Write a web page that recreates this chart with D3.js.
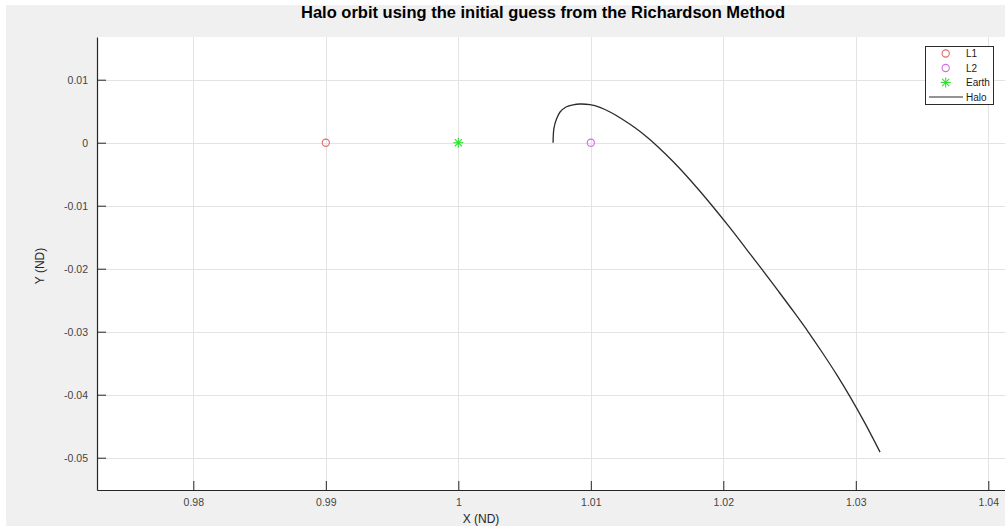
<!DOCTYPE html>
<html>
<head>
<meta charset="utf-8">
<script src="https://cdn.jsdelivr.net/npm/d3@7"></script>
<style>
  html, body { margin: 0; padding: 0; background: #ffffff; }
  svg { display: block; }
  text { font-family: "Liberation Sans", Arial, Helvetica, sans-serif; }
</style>
</head>
<body>
<svg id="chart" width="1005" height="526"></svg>
<script>
// Halo trajectory (non-dimensional rotating frame)
const haloX = [1.00715, 1.00722, 1.00741, 1.00768, 1.00813, 1.00866, 1.00919, 1.00994, 1.01069, 1.01145,
               1.01235, 1.01334, 1.01432, 1.01522, 1.01613, 1.01711, 1.01824, 1.01922, 1.02051, 1.02171,
               1.02292, 1.02413, 1.02534, 1.02647, 1.02752, 1.02858, 1.02956, 1.03069, 1.03183];
const haloY = [0.00000, 0.00233, 0.00376, 0.00487, 0.00567, 0.00602, 0.00614, 0.00603, 0.00560, 0.00487,
               0.00377, 0.00237, 0.00075, -0.00095, -0.00282, -0.00500, -0.00771, -0.01017, -0.01353, -0.01680,
               -0.02012, -0.02349, -0.02691, -0.03021, -0.03346, -0.03690, -0.04031, -0.04452, -0.04912];

// Libration points and Earth
const pointNames = ["L1", "L2", "Earth"];
const pointX = [0.99, 1.01, 1.00];
const pointY = [0, 0, 0];

// Axis ticks
const xTicks = [0.98, 0.99, 1.00, 1.01, 1.02, 1.03, 1.04];
const xTickLabels = ["0.98", "0.99", "1", "1.01", "1.02", "1.03", "1.04"];
const yTicks = [0.01, 0, -0.01, -0.02, -0.03, -0.04, -0.05];
const yTickLabels = ["0.01", "0", "-0.01", "-0.02", "-0.03", "-0.04", "-0.05"];

const legendNames = ["L1", "L2", "Earth", "Halo"];

const W = 1005, H = 526;
const plotL = 97, plotT = 37, plotR = 1005, plotB = 490;

const svg = d3.select("#chart");

// figure background
svg.append("rect").attr("x", 6).attr("y", 5).attr("width", W - 6).attr("height", H - 5).attr("fill", "#f0f0f0");
// axes area
svg.append("rect").attr("x", plotL).attr("y", plotT).attr("width", plotR - plotL).attr("height", plotB - plotT).attr("fill", "#ffffff");

const x = d3.scaleLinear().domain([0.97273, 1.04126]).range([plotL, plotR]);
const y = d3.scaleLinear().domain([0.016778, -0.055127]).range([plotT, plotB]);

// grid
const grid = svg.append("g").attr("stroke", "#e3e3e3").attr("stroke-width", 1);
grid.selectAll("line.gx").data(xTicks).join("line").attr("class", "gx")
  .attr("x1", d => Math.round(x(d)) + 0.5).attr("x2", d => Math.round(x(d)) + 0.5)
  .attr("y1", plotT).attr("y2", plotB);
grid.selectAll("line.gy").data(yTicks).join("line").attr("class", "gy")
  .attr("y1", d => Math.round(y(d)) + 0.5).attr("y2", d => Math.round(y(d)) + 0.5)
  .attr("x1", plotL).attr("x2", plotR);

// axes
const axisColor = "#262626";
const xAxis = d3.axisBottom(x).tickValues(xTicks).tickFormat((d, i) => xTickLabels[i])
  .tickSizeInner(-9).tickSizeOuter(0).tickPadding(9);
const yAxis = d3.axisLeft(y).tickValues(yTicks).tickFormat((d, i) => yTickLabels[i])
  .tickSizeInner(-9).tickSizeOuter(0).tickPadding(9);

const gx = svg.append("g").attr("transform", `translate(0,${plotB})`).call(xAxis);
const gy = svg.append("g").attr("transform", `translate(${plotL},0)`).call(yAxis);
[gx, gy].forEach(g => {
  g.select(".domain").attr("stroke", axisColor).attr("stroke-width", 1.2);
  g.selectAll(".tick line").attr("stroke", axisColor).attr("stroke-width", 1);
  g.selectAll(".tick text").attr("fill", "#444444").style("font-size", "10.5px")
   .style("font-family", "'Liberation Sans', Arial, sans-serif");
});

// halo curve
const pts = haloX.map((v, i) => [v, haloY[i]]);
const line = d3.line().x(d => x(d[0])).y(d => y(d[1])).curve(d3.curveCatmullRom.alpha(0.5));
svg.append("path").datum(pts).attr("d", line)
  .attr("fill", "none").attr("stroke", "#2b2b2b").attr("stroke-width", 1.3);

// markers
const colors = { L1: "#e06a6a", L2: "#d868e8", Earth: "#2ee02e" };
function circleMarker(g, cx, cy, c) {
  g.append("circle").attr("cx", cx).attr("cy", cy).attr("r", 3.6)
    .attr("fill", "none").attr("stroke", c).attr("stroke-width", 1.1);
}
function starMarker(g, cx, cy, c) {
  const r = 5;
  [0, 45, 90, 135].forEach(a => {
    const t = a * Math.PI / 180;
    g.append("line")
      .attr("x1", cx - r * Math.cos(t)).attr("y1", cy - r * Math.sin(t))
      .attr("x2", cx + r * Math.cos(t)).attr("y2", cy + r * Math.sin(t))
      .attr("stroke", c).attr("stroke-width", 1.1);
  });
}
const mk = svg.append("g");
pointNames.forEach((n, i) => {
  const cx = x(pointX[i]), cy = y(pointY[i]);
  if (n === "Earth") starMarker(mk, cx, cy, colors[n]);
  else circleMarker(mk, cx, cy, colors[n]);
});

// legend
const lg = svg.append("g");
lg.append("rect").attr("x", 925.5).attr("y", 46.5).attr("width", 68).attr("height", 58)
  .attr("fill", "#ffffff").attr("stroke", "#2b2b2b").attr("stroke-width", 1);
const rowY = [53.5, 68, 82.5, 97];
legendNames.forEach((n, i) => {
  const ry = rowY[i];
  if (n === "Halo") {
    lg.append("line").attr("x1", 929).attr("x2", 963).attr("y1", ry).attr("y2", ry)
      .attr("stroke", "#2b2b2b").attr("stroke-width", 1.2);
  } else if (n === "Earth") {
    starMarker(lg, 945.7, ry, colors[n]);
  } else {
    circleMarker(lg, 945.7, ry, colors[n]);
  }
  lg.append("text").attr("x", 966).attr("y", ry).attr("dy", "0.35em")
    .attr("fill", "#1a1a1a").style("font-size", "10px").text(n);
});

// title and axis labels
svg.append("text").attr("x", 543).attr("y", 18).attr("text-anchor", "middle")
  .style("font-size", "16.5px").style("font-weight", "bold").attr("fill", "#000")
  .text("Halo orbit using the initial guess from the Richardson Method");
svg.append("text").attr("x", 481).attr("y", 523).attr("text-anchor", "middle")
  .style("font-size", "12px").attr("fill", "#262626").text("X (ND)");
svg.append("text").attr("transform", "translate(44,266) rotate(-90)").attr("text-anchor", "middle")
  .style("font-size", "12px").attr("fill", "#262626").text("Y (ND)");
</script>
</body>
</html>
